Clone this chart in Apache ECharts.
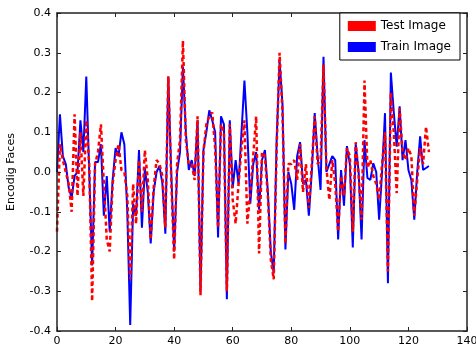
<!DOCTYPE html>
<html>
<head>
<meta charset="utf-8">
<script src="https://cdn.jsdelivr.net/npm/echarts@6/dist/echarts.min.js"></script>
<style>
  html, body { margin: 0; padding: 0; background: #fff; }
  #chart { width: 476px; height: 349px; }
</style>
</head>
<body>
<div id="chart"></div>
<script>
// values, index 0..127
const trainImage = [
  0.0, 0.145, 0.04, 0.02, -0.04, -0.065, -0.01, 0.0, 0.13, 0.05,
  0.24, 0.0, -0.235, 0.025, 0.025, 0.07, -0.11, -0.01, -0.15, -0.02,
  0.06, 0.04, 0.1, 0.07, -0.1, -0.385, -0.08, -0.11, 0.055, -0.14,
  0.01, -0.05, -0.18, -0.05, 0.0, 0.015, -0.03, -0.155, 0.24, 0.0,
  -0.2, 0.0, 0.05, 0.265, 0.1, 0.005, 0.03, -0.01, 0.13, -0.3,
  0.055, 0.1, 0.155, 0.13, 0.1, -0.165, 0.14, 0.12, -0.32, 0.13,
  -0.04, 0.03, -0.03, 0.1, 0.23, 0.1, -0.08, 0.02, 0.05, -0.095,
  0.03, 0.055, -0.05, -0.2, -0.255, 0.08, 0.28, 0.17, -0.195, 0.0,
  -0.03, -0.095, 0.04, 0.075, -0.03, -0.02, -0.11, 0.0, 0.148, 0.04,
  -0.045, 0.29, 0.0, 0.02, 0.04, 0.03, -0.17, 0.005, -0.085, 0.065,
  0.02, -0.19, 0.07, 0.0, -0.17, 0.08, -0.015, -0.02, 0.022, 0.0,
  -0.12, 0.0, 0.148, -0.28, 0.25, 0.15, 0.064, 0.165, 0.03, 0.08,
  0.005, -0.02, -0.12, 0.0, 0.09, 0.005, 0.01, 0.015
];
const testImage = [
  -0.15, 0.07, 0.03, 0.0, -0.03, -0.1, 0.145, -0.06, 0.1, -0.06,
  0.13, 0.02, -0.325, 0.02, 0.05, 0.12, -0.03, -0.17, -0.2, -0.03,
  0.03, 0.07, 0.005, 0.0, -0.06, -0.27, -0.03, -0.13, 0.03, -0.1,
  0.055, -0.02, -0.17, -0.04, 0.03, 0.02, -0.01, -0.14, 0.24, -0.02,
  -0.22, 0.02, 0.08, 0.33, 0.08, 0.02, 0.02, -0.02, 0.14, -0.31,
  0.05, 0.12, 0.14, 0.15, 0.06, -0.14, 0.12, 0.1, -0.3, 0.12,
  -0.07, -0.13, -0.03, 0.06, 0.13, -0.13, -0.05, 0.04, 0.14, -0.205,
  0.05, 0.04, -0.06, -0.22, -0.27, 0.06, 0.3, 0.15, -0.18, 0.02,
  0.02, 0.03, -0.02, 0.07, -0.05, 0.02, -0.09, 0.02, 0.14, 0.02,
  0.03, 0.27, 0.01, -0.07, 0.03, -0.03, -0.15, -0.01, -0.06, 0.06,
  0.04, -0.15, 0.075, -0.01, -0.12, 0.23, 0.01, 0.03, -0.01, -0.03,
  -0.07, 0.02, 0.1, -0.25, 0.2, 0.1, -0.053, 0.16, 0.05, 0.03,
  0.06, 0.04, -0.11, -0.02, 0.06, 0.02, 0.114, 0.05
];
const seriesNames = ['Test Image', 'Train Image'];
const yAxisName = 'Encodig Faces';

const chart = echarts.init(document.getElementById('chart'));

const font = 'DejaVu Sans';
const toPairs = arr => arr.map((v, i) => [i, v]);

const frameLine = () => ({ show: true, onZero: false, lineStyle: { color: '#222', width: 1.5 } });
const tickStyle = () => ({ show: true, inside: true, length: 4, lineStyle: { color: '#222', width: 1 } });
const hiddenLabel = () => ({ show: true, color: 'rgba(0,0,0,0)', fontSize: 1 });

chart.setOption({
  animation: false,
  grid: {
    left: 57, right: 9, top: 13, bottom: 18,
    outerBoundsMode: 'none'
  },
  legend: {
    data: seriesNames,
    orient: 'vertical',
    right: 16,
    top: 13,
    z: 10,
    icon: 'rect',
    itemWidth: 28,
    itemHeight: 10,
    itemGap: 9,
    padding: [7, 9, 7, 8],
    borderColor: '#000',
    borderWidth: 1,
    borderRadius: 0,
    backgroundColor: '#fff',
    textStyle: { fontFamily: font, fontSize: 12, color: '#000' }
  },
  xAxis: [{
    type: 'value', z: 5,
    min: 0, max: 140, interval: 20,
    axisLine: frameLine(),
    axisTick: tickStyle(),
    splitLine: { show: false },
    axisLabel: { fontFamily: font, fontSize: 11, color: '#000', margin: 5 }
  }, {
    type: 'value', position: 'top', z: 5,
    min: 0, max: 140, interval: 20,
    axisLine: frameLine(),
    axisTick: tickStyle(),
    axisLabel: hiddenLabel(),
    splitLine: { show: false }
  }],
  yAxis: [{
    type: 'value', z: 5,
    min: -0.4, max: 0.4, interval: 0.1,
    name: yAxisName,
    nameLocation: 'middle',
    nameGap: 40,
    nameTextStyle: { fontFamily: font, fontSize: 11, color: '#000' },
    axisLine: frameLine(),
    axisTick: tickStyle(),
    splitLine: { show: false },
    axisLabel: {
      fontFamily: font, fontSize: 11, color: '#000', margin: 6,
      formatter: v => v.toFixed(1)
    }
  }, {
    type: 'value', position: 'right', z: 5,
    min: -0.4, max: 0.4, interval: 0.1,
    axisLine: frameLine(),
    axisTick: tickStyle(),
    axisLabel: hiddenLabel(),
    splitLine: { show: false }
  }],
  series: [{
    name: 'Train Image',
    type: 'line',
    data: toPairs(trainImage),
    showSymbol: false,
    color: '#0000ff',
    lineStyle: { color: '#0000ff', width: 2 },
    z: 2
  }, {
    name: 'Test Image',
    type: 'line',
    data: toPairs(testImage),
    showSymbol: false,
    color: '#ff0000',
    lineStyle: { color: '#ff0000', width: 2.5, type: [4, 3] },
    z: 3
  }]
});
</script>
</body>
</html>
